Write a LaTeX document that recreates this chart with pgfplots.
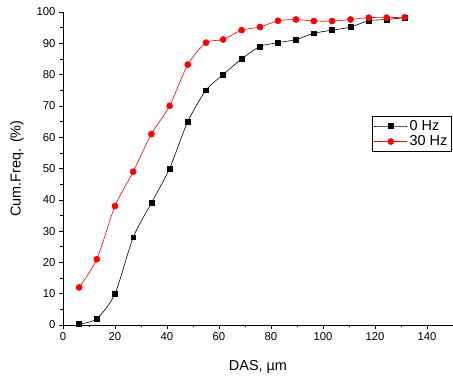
\documentclass[border=0pt]{standalone}
\usepackage{fontspec}
\setmainfont{Liberation Sans}
\usepackage{pgfplots}
\pgfplotsset{compat=1.18}
\begin{document}
\begin{tikzpicture}
\begin{axis}[
  name=ax,
  scale only axis,
  width=390bp, height=313bp,
  xmin=0, xmax=150, ymin=0, ymax=100,
  axis x line*=bottom, axis y line*=left,
  xtick={0,20,...,140}, ytick={0,10,...,100},
  minor x tick num=1, minor y tick num=1,
  tick align=outside,
  major tick length=4bp, minor tick length=2.5bp,
  tick style={black, line width=0.6pt},
  axis line style={line width=0.7pt},
  /pgf/number format/assume math mode=true,
  ticklabel style={font=\fontsize{11.4}{12}\selectfont},
  label style={font=\fontsize{14.5}{16}\selectfont},
  xlabel={DAS, µm},
  ylabel={Cum.Freq. (\%)},
  xlabel style={yshift=-13bp},
  ylabel style={yshift=6bp},
  legend style={at={(0.792,0.668)}, anchor=north west, draw=black, line width=0.6pt,
    font=\fontsize{14.5}{16}\selectfont, inner sep=2bp, row sep=0bp,
    legend cell align=left},
  legend image code/.code={
    \draw[#1, mark repeat=2, mark phase=2] plot coordinates {(0cm,0cm) (0.58cm,0cm) (1.16cm,0cm)};
  },
  clip=false,
]
\addplot[black, line width=0.6pt, smooth, tension=0.45, mark=square*, mark size=2.4bp, mark options={solid}]
coordinates {
(6.2,0.3) (13,2) (20,10) (27,28) (34,39) (41,50) (48,65) (55,75) (61.6,80) (68.7,85)
(75.8,89) (82.7,90.2) (89.6,91.2) (96.5,93.2) (103.5,94.2) (110.6,95.2) (117.6,97.2) (124.5,97.6) (131.4,98.2)
};
\addlegendentry{0 Hz}
\addplot[red, line width=0.6pt, smooth, tension=0.45, mark=*, mark size=3bp, mark options={solid}]
coordinates {
(6.2,12) (13,21) (20,38) (27,49) (34,61) (41,70) (48,83.2) (55,90.2) (61.6,91.2) (68.7,94.2)
(75.8,95.2) (82.7,97.2) (89.6,97.6) (96.5,97.1) (103.5,97.1) (110.6,97.6) (117.6,98.2) (124.5,98.2) (131.4,98.3)
};
\addlegendentry{30 Hz}
\end{axis}
\pgfresetboundingbox
\path[use as bounding box] ([xshift=-63bp,yshift=-52bp]ax.south west) rectangle ([yshift=12bp]ax.north east);
\end{tikzpicture}
\end{document}
